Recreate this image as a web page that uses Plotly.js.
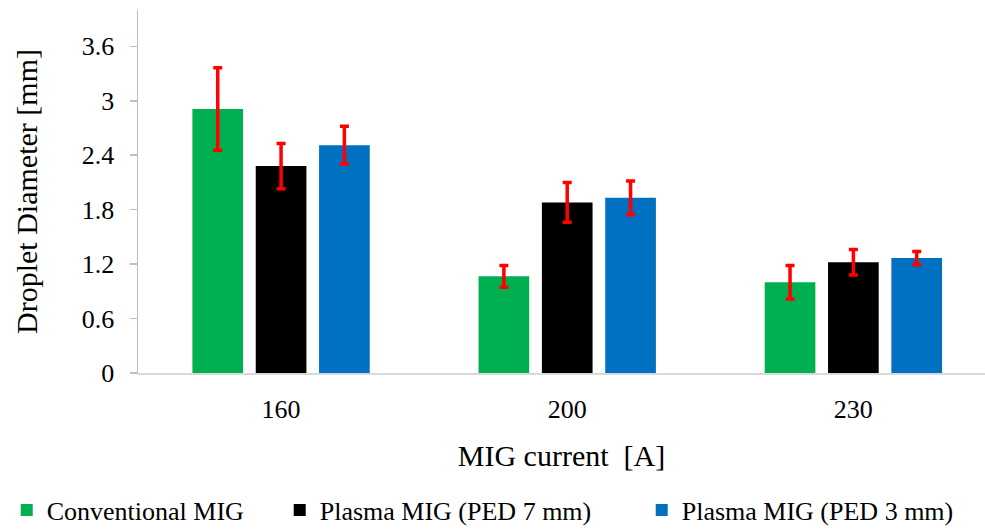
<!DOCTYPE html>
<html>
<head>
<meta charset="utf-8">
<script src="https://cdn.plot.ly/plotly-3.0.1.min.js"></script>
<style>html,body{margin:0;padding:0;background:#fff;}#chart{width:985px;height:530px;}</style>
</head>
<body>
<div id="chart"></div>
<script>
const categories = ["160", "200", "230"];
const seriesNames = ["Conventional MIG", "Plasma MIG (PED 7 mm)", "Plasma MIG (PED 3 mm)"];
const conventional = [2.91, 1.065, 1.0];
const conventionalErr = [0.455, 0.12, 0.185];
const plasma7 = [2.28, 1.88, 1.22];
const plasma7Err = [0.25, 0.22, 0.14];
const plasma3 = [2.51, 1.93, 1.267];
const plasma3Err = [0.21, 0.185, 0.073];
const yTickStep = 0.6;

const colors = ["#00b050", "#000000", "#0070c0"];
const values = [conventional, plasma7, plasma3];
const errs = [conventionalErr, plasma7Err, plasma3Err];
const legendWidths = [228, 317, null];

const font = "Liberation Serif";

const traces = values.map((v, i) => {
  const t = {
    type: "bar",
    name: seriesNames[i],
    x: categories,
    y: v,
    marker: {color: colors[i]},
    error_y: {type: "data", array: errs[i], visible: true, color: "#ff0000", thickness: 3.5, width: 4.5}
  };
  if (legendWidths[i]) t.legendwidth = legendWidths[i];
  return t;
});

const layout = {
  width: 985, height: 530,
  margin: {l: 138, r: 0, t: 10, b: 157, autoexpand: false},
  paper_bgcolor: "#ffffff", plot_bgcolor: "#ffffff",
  font: {family: font, color: "#000000", size: 26},
  barmode: "group",
  bargap: 0.336,
  bargroupgap: 0.2,
  xaxis: {
    type: "category",
    range: [-0.5, 2.46],
    showline: true, linecolor: "#d9d9d9", linewidth: 1.5,
    ticks: "", showgrid: false, zeroline: false,
    tickfont: {family: font, size: 26, color: "#000"},
    ticklabelstandoff: 12,
    title: {text: "MIG current  [A]", font: {family: font, size: 30, color: "#000"}, standoff: 22},
    automargin: false
  },
  yaxis: {
    range: [0, 4],
    tick0: 0, dtick: yTickStep,
    showline: true, linecolor: "#bfbfbf", linewidth: 1.5,
    ticks: "outside", ticklen: 7, tickcolor: "#bfbfbf", tickwidth: 1.5,
    showgrid: false, zeroline: false,
    tickfont: {family: font, size: 26, color: "#000"},
    ticklabelstandoff: 10,
    title: {text: "Droplet Diameter [mm]", font: {family: font, size: 30, color: "#000"}, standoff: 35},
    automargin: false
  },
  showlegend: true,
  legend: {
    orientation: "h",
    x: -0.155, xanchor: "left",
    y: -0.313, yanchor: "top",
    font: {family: font, size: 26, color: "#000"},
    bgcolor: "rgba(0,0,0,0)",
    traceorder: "normal"
  }
};

Plotly.newPlot("chart", traces, layout, {displayModeBar: false, staticPlot: true});
</script>
</body>
</html>
